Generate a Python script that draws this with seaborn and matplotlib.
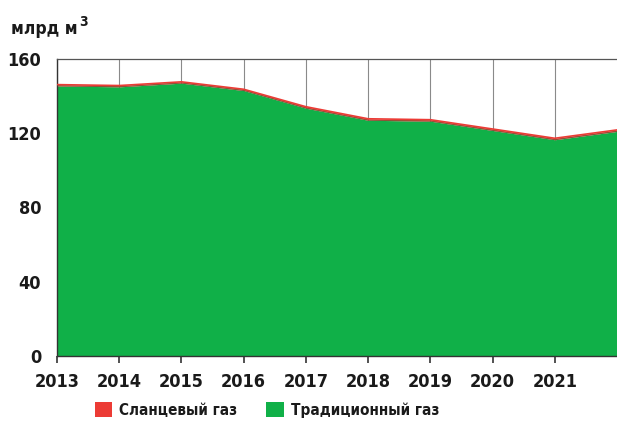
import matplotlib
matplotlib.use("Agg")
import matplotlib.pyplot as plt
import matplotlib.font_manager as fm
from matplotlib.patches import Patch
import seaborn as sns
import pandas as pd

years = [2013, 2014, 2015, 2016, 2017, 2018, 2019, 2020, 2021, 2022]
traditional = [145.5, 145.0, 147.0, 143.0, 133.5, 127.0, 126.5, 121.5, 116.5, 121.0]
shale = [0.7, 0.7, 0.7, 0.7, 0.8, 0.8, 0.8, 0.8, 0.8, 0.8]
xtick_labels = ["2013", "2014", "2015", "2016", "2017", "2018", "2019", "2020", "2021"]
yticks = [0, 40, 80, 120, 160]
unit_label = "млрд м"
legend_labels = ["Сланцевый газ", "Традиционный газ"]

sns.set_style("white")
plt.rcParams["font.family"] = ["DejaVu Sans"]
cond = None
for f in fm.fontManager.ttflist:
    if "Condensed" in f.fname and "DejaVuSans" in f.fname.replace(" ", "") and "Bold" in f.fname and "Oblique" not in f.fname:
        cond = f.fname
        break
if cond:
    FP = lambda size: fm.FontProperties(fname=cond, size=size)
else:
    FP = lambda size: fm.FontProperties(family="DejaVu Sans", weight="bold", size=size * 0.85)

GREEN = "#10b048"
RED = "#ec3b35"
TXT = "#1a1a1a"

df = pd.DataFrame({"year": years, "trad": traditional, "shale": shale})
df["total"] = df["trad"] + df["shale"]

fig = plt.figure(figsize=(6.17, 4.30), dpi=100)
ax = fig.add_axes([57 / 617, 74 / 430, 560 / 617, 297 / 430])

ax.fill_between(df["year"], 0, df["trad"], color=GREEN, lw=0, zorder=2)
ax.fill_between(df["year"], df["trad"], df["total"], color=RED, lw=0, zorder=2)
sns.lineplot(data=df, x="year", y="total", ax=ax, color=RED, lw=1.2, zorder=3)
sns.lineplot(data=df, x="year", y="trad", ax=ax, color="#2e6b3a", lw=0.6, zorder=3, alpha=0.6)

ax.set_xlim(2013, 2022)
ax.set_ylim(0, 160)
ax.set_xticks(years[:-1])
ax.set_xticklabels(xtick_labels)
ax.set_yticks(yticks)
ax.set_xlabel("")
ax.set_ylabel("")
ax.grid(axis="x", color="#8a8a8a", lw=0.8, zorder=1)
ax.grid(axis="y", visible=False)
ax.set_axisbelow(True)

ax.spines["right"].set_visible(False)
ax.spines["top"].set_color("#555555")
ax.spines["top"].set_linewidth(0.9)
ax.spines["left"].set_color("#333333")
ax.spines["left"].set_linewidth(1.0)
ax.spines["bottom"].set_color("#333333")
ax.spines["bottom"].set_linewidth(1.0)

ax.tick_params(axis="x", bottom=True, length=5, width=1.2, color="#333333", pad=7, labelcolor=TXT)
ax.tick_params(axis="y", left=False, pad=8, labelcolor=TXT)
for lab in ax.get_xticklabels() + ax.get_yticklabels():
    lab.set_fontproperties(FP(13))

t = fig.text(11 / 617, 1 - 29 / 430, unit_label, color=TXT, ha="left", va="center",
             fontproperties=FP(12.5))
fig.canvas.draw()
bb = t.get_window_extent()
fig.text(bb.x1 / 617 + 0.002, 1 - 22 / 430, "3", color=TXT, ha="left", va="center",
         fontproperties=FP(10))

handles = [Patch(facecolor=RED, edgecolor="none"), Patch(facecolor=GREEN, edgecolor="none")]
leg = fig.legend(handles, legend_labels, loc="center", bbox_to_anchor=(267 / 617, 1 - 410 / 430),
                 ncol=2, frameon=False, handlelength=1.15, handleheight=1.15,
                 handletextpad=0.45, columnspacing=1.9, prop=FP(11))
for tx in leg.get_texts():
    tx.set_color(TXT)

fig.savefig("out.png", dpi=100)
